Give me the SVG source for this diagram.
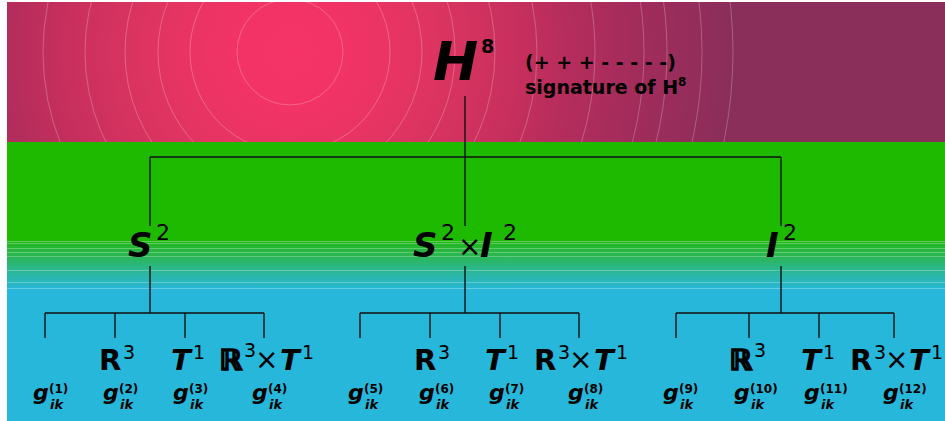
<svg xmlns="http://www.w3.org/2000/svg" width="945" height="421" viewBox="0 0 945 421">
<defs>
<radialGradient id="pink" gradientUnits="userSpaceOnUse" cx="290" cy="52" r="445">
<stop offset="0" stop-color="#f53367"/>
<stop offset="0.12" stop-color="#f23366"/>
<stop offset="0.23" stop-color="#e93463"/>
<stop offset="0.32" stop-color="#de3461"/>
<stop offset="0.42" stop-color="#d2325f"/>
<stop offset="0.52" stop-color="#c62f5d"/>
<stop offset="0.62" stop-color="#b62d5c"/>
<stop offset="0.8" stop-color="#a02c5b"/>
<stop offset="1" stop-color="#8a2e5a"/>
</radialGradient>
<linearGradient id="trans" gradientUnits="userSpaceOnUse" x1="0" y1="241" x2="0" y2="289">
<stop offset="0" stop-color="#22b81a"/>
<stop offset="0.3" stop-color="#2ab650"/>
<stop offset="0.5" stop-color="#2bb77a"/>
<stop offset="0.7" stop-color="#2bb7a5"/>
<stop offset="0.9" stop-color="#29b7c4"/>
<stop offset="1" stop-color="#28b7d8"/>
</linearGradient>
<clipPath id="topclip"><rect x="7" y="2" width="938" height="140"/></clipPath>
</defs>
<style>
.ring{fill:none;stroke:#ffffff;stroke-opacity:0.3;stroke-width:0.8}
.stripe{stroke:#ffffff;stroke-opacity:0.35;stroke-width:0.8}
.conn{fill:none;stroke:#111111;stroke-width:1.4}
.big{font-family:"DejaVu Sans",sans-serif;font-weight:bold;font-style:italic;fill:#000}
.mid{font-family:"DejaVu Sans",sans-serif;font-weight:bold;font-style:italic;fill:#000;font-size:34px}
.midsup{font-family:"DejaVu Sans",sans-serif;fill:#000;font-size:22px}
.lab{font-family:"DejaVu Sans",sans-serif;font-weight:bold;fill:#000;font-size:19px}
.r{font-family:"DejaVu Sans",sans-serif;font-weight:bold;fill:#000;font-size:29px}
.dbl{font-family:"DejaVu Sans",sans-serif;font-weight:bold;fill:#000;stroke:#000;stroke-width:1.6;font-size:29px}
.t{font-family:"DejaVu Sans",sans-serif;font-weight:bold;font-style:italic;fill:#000;font-size:29px}
.x{font-family:"DejaVu Sans",sans-serif;fill:#000;font-size:28px}
.sup{font-family:"DejaVu Sans",sans-serif;fill:#000;font-size:19px}
.g{font-family:"DejaVu Sans",sans-serif;font-weight:bold;font-style:italic;fill:#000;font-size:22px}
.gs{font-family:"DejaVu Sans",sans-serif;font-weight:bold;fill:#000;font-size:12px}
.gi{font-family:"DejaVu Sans",sans-serif;font-weight:bold;font-style:italic;fill:#000;font-size:13px}
</style>
<rect x="0" y="0" width="945" height="421" fill="#ffffff"/>
<rect x="7" y="2" width="938" height="140" fill="url(#pink)"/>
<g clip-path="url(#topclip)">
<circle class="ring" cx="290" cy="52" r="53"/>
<circle class="ring" cx="290" cy="52" r="100"/>
<circle class="ring" cx="290" cy="52" r="132"/>
<circle class="ring" cx="290" cy="52" r="165"/>
<circle class="ring" cx="290" cy="52" r="205"/>
<circle class="ring" cx="290" cy="52" r="247"/>
<circle class="ring" cx="290" cy="52" r="305"/>
<circle class="ring" cx="290" cy="52" r="354"/>
<circle class="ring" cx="290" cy="52" r="377"/>
<circle class="ring" cx="290" cy="52" r="412"/>
<circle class="ring" cx="290" cy="52" r="443"/>
</g>
<rect x="7" y="142" width="938" height="100" fill="#1eba00"/>
<rect x="7" y="241" width="938" height="48" fill="url(#trans)"/>
<rect x="7" y="289" width="938" height="132" fill="#27b7db"/>
<g>
<line class="stripe" x1="7" y1="241.5" x2="945" y2="241.5"/>
<line class="stripe" x1="7" y1="243.5" x2="945" y2="243.5"/>
<line class="stripe" x1="7" y1="248.5" x2="945" y2="248.5"/>
<line class="stripe" x1="7" y1="252.5" x2="945" y2="252.5"/>
<line class="stripe" x1="7" y1="256.5" x2="945" y2="256.5"/>
<line class="stripe" x1="7" y1="270.5" x2="945" y2="270.5"/>
<line class="stripe" x1="7" y1="282.5" x2="945" y2="282.5"/>
<line class="stripe" x1="7" y1="288.5" x2="945" y2="288.5"/>
</g>

<g id="connectors">
<path class="conn" d="M465 96 V157 M150 157 H781 M150 157 V226 M465 157 V226 M781 157 V226"/>
<path class="conn" d="M150 266 V313 M45 313 H264 M45 313 V338 M115 313 V338 M185 313 V338 M264 313 V338"/>
<path class="conn" d="M465 266 V313 M360 313 H579 M360 313 V338 M430 313 V338 M500 313 V338 M579 313 V338"/>
<path class="conn" d="M781 266 V313 M676 313 H894 M676 313 V338 M749 313 V338 M819 313 V338 M894 313 V338"/>
</g>

<g id="node-H8">
<text class="big" x="433" y="80" font-size="54">H</text>
<text class="lab" x="481" y="53" font-size="28px">8</text>
<text class="lab" x="525" y="69">(+ + + - - - - -)</text>
<text class="lab" x="525" y="94">signature of H<tspan font-size="12px" dy="-8">8</tspan></text>
</g>

<g id="node-S2">
<text class="mid" x="128" y="257">S</text>
<text class="midsup" x="156" y="240">2</text>
</g>
<g id="node-S2xI2">
<text class="mid" x="413" y="257">S</text>
<text class="midsup" x="441" y="240">2</text>
<text class="x" x="458" y="256">×</text>
<text class="mid" x="480" y="257">I</text>
<text class="midsup" x="503" y="240">2</text>
</g>
<g id="node-I2">
<text class="mid" x="766" y="257">I</text>
<text class="midsup" x="783" y="240">2</text>
</g>

<g id="node-g1"><text class="g" x="33" y="400">g</text><text class="gs" x="49" y="393">(1)</text><text class="gi" x="50" y="409">ik</text></g>
<g id="node-g2"><text class="r" x="99" y="370">R</text><text class="sup" x="123" y="359">3</text><text class="g" x="103" y="400">g</text><text class="gs" x="119" y="393">(2)</text><text class="gi" x="120" y="409">ik</text></g>
<g id="node-g3"><text class="t" x="171" y="370">T</text><text class="sup" x="193" y="359">1</text><text class="g" x="173" y="400">g</text><text class="gs" x="189" y="393">(3)</text><text class="gi" x="190" y="409">ik</text></g>
<g id="node-g4"><text class="dbl" x="219" y="370">ℝ</text><text class="sup" x="244" y="357">3</text><text class="x" x="255" y="369">×</text><text class="t" x="280" y="370">T</text><text class="sup" x="302" y="359">1</text><text class="g" x="252" y="400">g</text><text class="gs" x="268" y="393">(4)</text><text class="gi" x="269" y="409">ik</text></g>

<g id="node-g5"><text class="g" x="348" y="400">g</text><text class="gs" x="364" y="393">(5)</text><text class="gi" x="365" y="409">ik</text></g>
<g id="node-g6"><text class="r" x="414" y="370">R</text><text class="sup" x="438" y="359">3</text><text class="g" x="419" y="400">g</text><text class="gs" x="435" y="393">(6)</text><text class="gi" x="436" y="409">ik</text></g>
<g id="node-g7"><text class="t" x="485" y="370">T</text><text class="sup" x="507" y="359">1</text><text class="g" x="489" y="400">g</text><text class="gs" x="505" y="393">(7)</text><text class="gi" x="506" y="409">ik</text></g>
<g id="node-g8"><text class="r" x="534" y="370">R</text><text class="sup" x="558" y="359">3</text><text class="x" x="569" y="369">×</text><text class="t" x="594" y="370">T</text><text class="sup" x="616" y="359">1</text><text class="g" x="568" y="400">g</text><text class="gs" x="584" y="393">(8)</text><text class="gi" x="585" y="409">ik</text></g>

<g id="node-g9"><text class="g" x="663" y="400">g</text><text class="gs" x="679" y="393">(9)</text><text class="gi" x="680" y="409">ik</text></g>
<g id="node-g10"><text class="dbl" x="729" y="370">ℝ</text><text class="sup" x="754" y="357">3</text><text class="g" x="734" y="400">g</text><text class="gs" x="750" y="393">(10)</text><text class="gi" x="751" y="409">ik</text></g>
<g id="node-g11"><text class="t" x="801" y="370">T</text><text class="sup" x="823" y="359">1</text><text class="g" x="804" y="400">g</text><text class="gs" x="820" y="393">(11)</text><text class="gi" x="821" y="409">ik</text></g>
<g id="node-g12"><text class="r" x="850" y="370">R</text><text class="sup" x="874" y="359">3</text><text class="x" x="885" y="369">×</text><text class="t" x="909" y="370">T</text><text class="sup" x="931" y="359">1</text><text class="g" x="883" y="400">g</text><text class="gs" x="899" y="393">(12)</text><text class="gi" x="900" y="409">ik</text></g>
</svg>
